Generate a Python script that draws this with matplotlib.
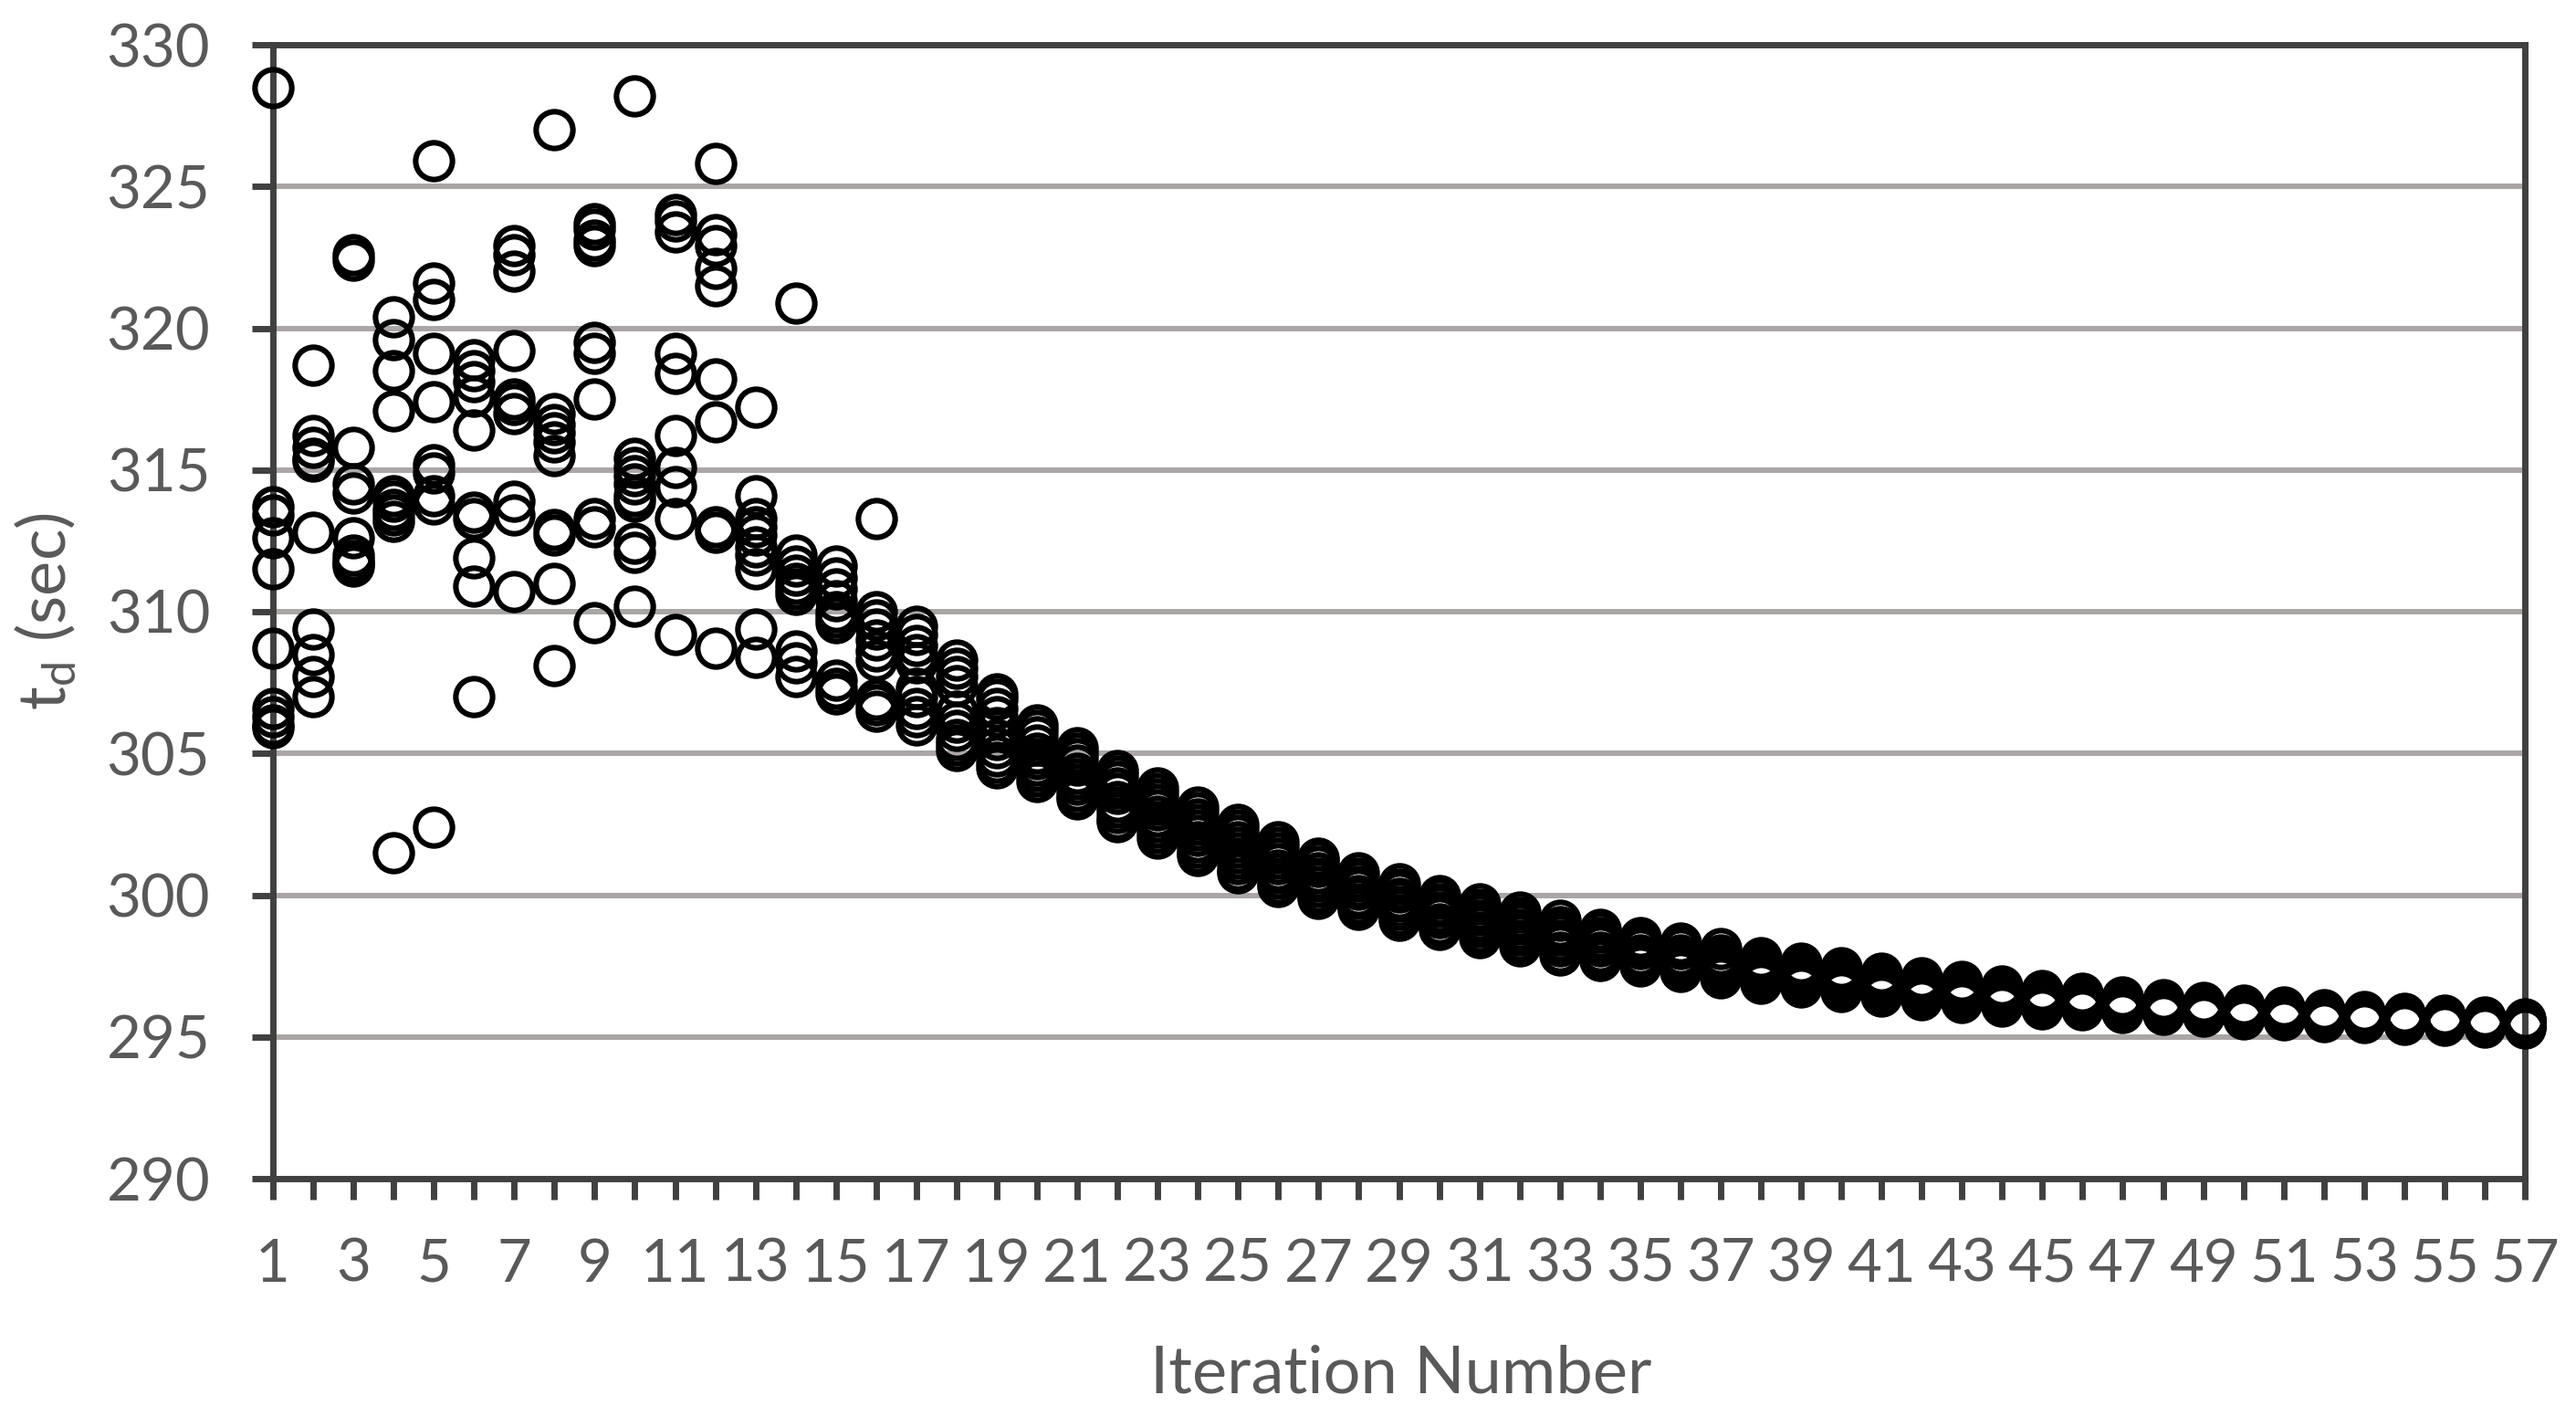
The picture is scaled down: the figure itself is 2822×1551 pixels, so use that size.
import matplotlib
matplotlib.use("Agg")
import matplotlib.pyplot as plt

# ---------------- data ----------------
iterations = list(range(1, 58))

td_iters_01_10 = [
    [328.5, 313.7, 313.4, 312.6, 311.5, 308.7, 306.6, 306.3, 306.0, 305.9],
    [318.7, 316.2, 315.8, 315.4, 315.3, 312.8, 309.4, 308.5, 307.7, 307.0],
    [322.6, 322.4, 315.8, 314.5, 314.2, 312.6, 312.0, 311.8, 311.7, 311.6],
    [320.4, 319.6, 318.5, 317.1, 314.1, 313.9, 313.6, 313.4, 313.2, 301.5],
    [325.9, 321.6, 321.0, 319.1, 317.4, 315.2, 314.9, 314.1, 313.8, 302.4],
    [318.9, 318.5, 318.1, 317.6, 316.4, 313.5, 313.3, 311.9, 310.9, 307.0],
    [322.9, 322.6, 322.0, 319.2, 317.5, 317.3, 317.0, 313.9, 313.4, 310.7],
    [327.0, 317.0, 316.6, 316.3, 316.0, 315.5, 312.9, 312.7, 311.0, 308.1],
    [323.7, 323.5, 323.1, 322.9, 319.5, 319.1, 317.5, 313.3, 313.0, 309.6],
    [328.2, 315.4, 315.1, 314.8, 314.5, 314.1, 313.9, 312.4, 312.1, 310.2],
]
td_iters_11_20 = [
    [324.0, 323.8, 323.4, 319.1, 318.4, 316.2, 315.1, 314.4, 313.3, 309.2],
    [325.8, 323.3, 322.9, 322.1, 321.5, 318.2, 316.7, 313.0, 312.8, 308.7],
    [317.2, 314.1, 313.3, 313.0, 312.7, 312.3, 312.0, 311.5, 309.4, 308.4],
    [320.9, 312.0, 311.6, 311.3, 311.0, 310.8, 310.6, 308.6, 308.2, 307.7],
    [311.6, 311.2, 310.8, 310.4, 310.0, 309.8, 309.6, 307.6, 307.3, 307.1],
    [313.3, 310.0, 309.7, 309.4, 309.0, 308.6, 308.3, 306.9, 306.7, 306.5],
    [309.5, 309.2, 308.8, 308.5, 308.2, 307.3, 307.0, 306.6, 306.3, 306.0],
    [308.3, 308.0, 307.7, 307.4, 306.5, 306.1, 305.8, 305.5, 305.3, 305.1],
    [307.1, 306.9, 306.6, 306.3, 305.9, 305.5, 305.2, 304.9, 304.7, 304.5],
    [306.0, 305.8, 305.6, 305.3, 305.0, 304.8, 304.6, 304.4, 304.2, 304.0],
]
td_iters_21_30 = [
    [305.2, 305.0, 304.8, 304.6, 304.3, 304.1, 303.9, 303.7, 303.5, 303.4],
    [304.4, 304.2, 304.0, 303.8, 303.6, 303.3, 303.1, 302.9, 302.7, 302.6],
    [303.8, 303.6, 303.4, 303.2, 303.0, 302.8, 302.6, 302.4, 302.2, 302.0],
    [303.1, 302.9, 302.7, 302.5, 302.3, 302.1, 301.9, 301.7, 301.5, 301.4],
    [302.5, 302.3, 302.1, 301.9, 301.7, 301.5, 301.3, 301.1, 300.9, 300.8],
    [301.9, 301.7, 301.5, 301.3, 301.1, 300.9, 300.8, 300.6, 300.4, 300.3],
    [301.3, 301.2, 301.0, 300.8, 300.6, 300.5, 300.3, 300.1, 300.0, 299.9],
    [300.8, 300.6, 300.5, 300.3, 300.2, 300.0, 299.9, 299.7, 299.6, 299.5],
    [300.4, 300.2, 300.1, 299.9, 299.8, 299.6, 299.5, 299.3, 299.2, 299.1],
    [300.0, 299.9, 299.7, 299.6, 299.4, 299.3, 299.2, 299.0, 298.9, 298.8],
]
td_iters_31_40 = [
    [299.7, 299.5, 299.4, 299.3, 299.1, 299.0, 298.9, 298.7, 298.6, 298.5],
    [299.4, 299.2, 299.1, 299.0, 298.8, 298.7, 298.6, 298.4, 298.3, 298.2],
    [299.1, 298.9, 298.8, 298.7, 298.6, 298.4, 298.3, 298.2, 298.0, 297.9],
    [298.8, 298.7, 298.5, 298.4, 298.3, 298.2, 298.0, 297.9, 297.8, 297.7],
    [298.5, 298.4, 298.3, 298.2, 298.1, 297.9, 297.8, 297.7, 297.6, 297.5],
    [298.3, 298.2, 298.1, 297.9, 297.8, 297.7, 297.6, 297.5, 297.4, 297.3],
    [298.1, 297.9, 297.8, 297.7, 297.6, 297.5, 297.4, 297.3, 297.2, 297.1],
    [297.8, 297.7, 297.6, 297.5, 297.4, 297.3, 297.2, 297.1, 297.0, 296.9],
    [297.6, 297.5, 297.4, 297.3, 297.2, 297.1, 297.0, 296.9, 296.85, 296.75],
    [297.45, 297.35, 297.25, 297.15, 297.05, 296.95, 296.85, 296.75, 296.7, 296.6],
]
td_iters_41_50 = [
    [297.25, 297.15, 297.05, 296.95, 296.85, 296.75, 296.7, 296.6, 296.5, 296.45],
    [297.1, 297.0, 296.9, 296.8, 296.7, 296.65, 296.55, 296.45, 296.4, 296.3],
    [296.95, 296.85, 296.75, 296.65, 296.6, 296.5, 296.45, 296.35, 296.3, 296.2],
    [296.8, 296.7, 296.6, 296.55, 296.45, 296.4, 296.3, 296.25, 296.15, 296.1],
    [296.65, 296.6, 296.5, 296.45, 296.35, 296.3, 296.2, 296.15, 296.05, 296.0],
    [296.55, 296.5, 296.4, 296.35, 296.25, 296.2, 296.15, 296.05, 296.0, 295.95],
    [296.4, 296.35, 296.3, 296.2, 296.15, 296.1, 296.0, 295.95, 295.9, 295.85],
    [296.3, 296.25, 296.2, 296.15, 296.05, 296.0, 295.95, 295.9, 295.85, 295.8],
    [296.2, 296.15, 296.1, 296.05, 295.95, 295.9, 295.85, 295.8, 295.75, 295.72],
    [296.13, 296.08, 296.02, 295.96, 295.9, 295.84, 295.78, 295.74, 295.7, 295.65],
]
td_iters_51_57 = [
    [296.05, 296.0, 295.95, 295.9, 295.84, 295.79, 295.74, 295.69, 295.64, 295.6],
    [295.97, 295.92, 295.87, 295.82, 295.78, 295.73, 295.68, 295.63, 295.59, 295.55],
    [295.9, 295.86, 295.81, 295.77, 295.72, 295.68, 295.63, 295.59, 295.54, 295.5],
    [295.84, 295.8, 295.75, 295.71, 295.67, 295.62, 295.58, 295.53, 295.49, 295.45],
    [295.78, 295.74, 295.7, 295.66, 295.62, 295.58, 295.54, 295.5, 295.46, 295.42],
    [295.7, 295.66, 295.63, 295.59, 295.55, 295.51, 295.47, 295.44, 295.4, 295.36],
    [295.63, 295.6, 295.56, 295.52, 295.49, 295.45, 295.41, 295.37, 295.34, 295.3],
]

y_ticks = [290, 295, 300, 305, 310, 315, 320, 325, 330]
x_tick_labels = [str(i) if i % 2 == 1 else "" for i in iterations]
x_label = "Iteration Number"
y_label = r"t$_\mathregular{d}$ (sec)"

# ---------------- plot ----------------
plt.rcParams["font.family"] = ["Lato", "DejaVu Sans"]
plt.rcParams["mathtext.fontset"] = "custom"
plt.rcParams["mathtext.rm"] = "Lato"

W, H = 2822, 1551
fig = plt.figure(figsize=(W / 100, H / 100), dpi=100)
ax = fig.add_axes([299 / W, 1 - 1291 / H, (2766 - 299) / W, (1291 - 49) / H])

all_groups = td_iters_01_10 + td_iters_11_20 + td_iters_21_30 + td_iters_31_40 + td_iters_41_50 + td_iters_51_57
xs, ys = [], []
for it, vals in zip(iterations, all_groups):
    for v in vals:
        xs.append(it)
        ys.append(v)

ax.plot(xs, ys, linestyle="none", marker="o", markersize=29, markerfacecolor="none",
        markeredgecolor="black", markeredgewidth=4.4, clip_on=False, zorder=4)

ax.set_xlim(1, 57)
ax.set_ylim(290, 330)
ax.set_yticks(y_ticks)
ax.set_xticks(iterations)
ax.set_xticklabels(x_tick_labels)

spine_col = "#404040"
for s in ax.spines.values():
    s.set_color(spine_col)
    s.set_linewidth(5)
    s.set_zorder(3)

ax.yaxis.grid(True, color="#AAA6A6", linewidth=4.3)
ax.set_axisbelow(True)

ax.tick_params(axis="both", direction="out", length=16.5, width=5, color=spine_col,
               labelcolor="#595959", labelsize=47)
ax.tick_params(axis="y", pad=33)
ax.tick_params(axis="x", pad=30)

fig.text(1535 / W, 1 - 1505 / H, x_label, ha="center", va="center", fontsize=52, color="#595959")
fig.text(50 / W, 1 - 670 / H, y_label, ha="center", va="center", rotation=90, fontsize=52, color="#595959")

fig.savefig("out.png", dpi=100, facecolor="white")
